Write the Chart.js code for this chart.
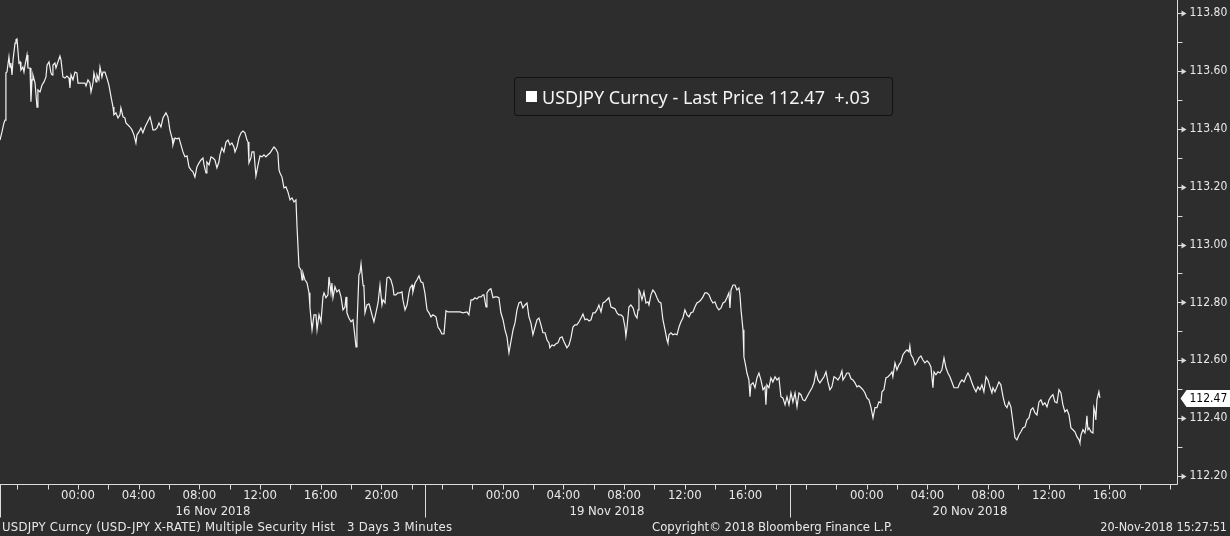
<!DOCTYPE html>
<html>
<head>
<meta charset="utf-8">
<script src="https://cdn.jsdelivr.net/npm/chart.js@4.4.0/dist/chart.umd.min.js"></script>
<style>
  html, body { margin: 0; padding: 0; background: #2d2d2d; }
  #wrap { position: relative; width: 1230px; height: 536px; overflow: hidden; background: #2d2d2d; }
  canvas { display: block; }
  #legendBox {
    position: absolute; left: 514px; top: 77px; width: 379px; height: 39px;
    box-sizing: border-box; border: 1px solid #121212; border-radius: 3px;
    display: flex; align-items: center; padding-left: 11px;
    font: 18px "Noto Sans", sans-serif; color: #f4f4f4; white-space: pre;
  }
  #legendBox .swatch { width: 11px; height: 11px; background: #ffffff; margin-right: 5px; flex: none; }
  .foot {
    position: absolute; top: 519px; line-height: 16px; white-space: pre;
    font: 13px "DejaVu Sans Condensed", "DejaVu Sans", sans-serif; color: #e8e8e8;
  }
</style>
</head>
<body>
<div id="wrap">
  <canvas id="chart" width="1230" height="536"></canvas>
  <div id="legendBox"><span class="swatch"></span><span id="legendText"></span></div>
  <div class="foot" id="footLeft" style="left:2px; letter-spacing:0.25px"></div>
  <div class="foot" id="footMid" style="left:652px"></div>
  <div class="foot" id="footRight" style="right:3px; font-size:12.5px"></div>
</div>
<script>
// hours on Bloomberg's compressed trading clock (0 = 16 Nov 00:00, 28 = 19 Nov 00:00, 52 = 20 Nov 00:00)
const hours = [
  -5.14,-5.01,-4.88,-4.81,-4.75,-4.68,-4.55,-4.48,-4.42,-4.35,
  -4.28,-4.15,-4.09,-4.02,-3.89,-3.82,-3.76,-3.63,-3.56,-3.49,
  -3.36,-3.30,-3.16,-3.10,-3.03,-2.97,-2.83,-2.70,-2.64,-2.50,
  -2.37,-2.24,-2.11,-2.04,-1.91,-1.78,-1.71,-1.65,-1.52,-1.45,
  -1.32,-1.19,-1.12,-0.99,-0.86,-0.73,-0.59,-0.53,-0.46,-0.33,
  -0.20,-0.07,0,0.26,0.46,0.53,0.66,0.79,0.86,0.99,
  1.05,1.19,1.25,1.38,1.45,1.58,1.65,1.78,1.91,2.04,
  2.18,2.31,2.37,2.50,2.64,2.77,2.83,2.97,3.10,3.16,
  3.30,3.43,3.56,3.69,3.82,3.89,4.02,4.15,4.28,4.42,
  4.55,4.75,4.88,4.94,5.08,5.21,5.34,5.47,5.60,5.80,
  5.93,6.06,6.20,6.26,6.39,6.53,6.66,6.79,6.92,7.05,
  7.19,7.32,7.45,7.58,7.71,7.84,7.98,8.11,8.24,8.31,
  8.44,8.50,8.64,8.77,8.90,9.03,9.16,9.29,9.36,9.49,
  9.62,9.76,9.89,10.02,10.15,10.28,10.35,10.48,10.61,10.75,
  10.88,11.01,11.14,11.21,11.27,11.40,11.47,11.60,11.73,11.87,
  12.00,12.13,12.26,12.39,12.52,12.66,12.79,12.92,13.05,13.18,
  13.25,
  13.32,13.45,13.58,13.71,13.84,13.98,14.11,14.24,14.37,14.44,
  14.57,14.70,14.77,14.83,14.96,15.10,15.23,15.29,15.43,15.56,
  15.69,15.76,15.89,16.02,16.15,16.22,16.35,16.48,16.55,16.68,
  16.74,16.81,16.94,17.07,17.21,17.34,17.47,17.60,17.67,17.73,
  17.86,18.00,18.13,18.26,18.33,18.39,18.52,18.59,18.66,18.79,
  18.85,18.92,19.05,19.18,19.25,19.38,19.51,19.64,19.78,19.91,
  20.04,20.11,20.24,20.37,20.50,20.63,20.76,20.83,20.96,21.09,
  21.23,21.36,21.42,21.56,21.69,21.82,21.89,22.02,22.08,22.22,
  22.35,22.48,22.61,22.74,22.87,23.01,23.14,23.27,23.40,23.60,
  23.73,23.86,23.99,24.13,24.26,24.39,24.65,24.98,25.18,25.38,
  25.64,25.77,25.91,26.04,26.17,26.30,26.43,26.57,26.70,26.76,
  26.90,26.96,27.09,27.22,27.36,27.49,27.62,27.75,27.88,28.02,
  28.15,28.28,28.41,28.54,28.68,28.81,28.94,29.07,29.20,29.33,
  29.47,29.60,29.73,29.86,29.99,30.13,30.26,30.39,30.52,30.65,
  30.79,30.92,31.05,
  31.11,31.25,31.38,31.51,31.64,31.77,31.91,32.04,32.23,32.37,
  32.50,32.63,32.76,32.89,33.03,33.16,33.29,33.42,33.55,33.69,
  33.82,33.95,34.08,34.21,34.34,34.48,34.61,34.74,34.87,35.00,
  35.14,35.27,35.40,35.53,35.66,35.79,35.93,36.06,36.12,36.19,
  36.32,36.45,36.59,36.72,36.85,36.92,36.98,37.05,37.18,37.31,
  37.44,37.57,37.64,37.77,37.90,38.04,38.17,38.30,38.43,38.56,
  38.70,38.83,38.89,38.96,39.09,39.22,39.35,39.49,39.62,39.75,
  39.88,40.01,40.15,40.28,40.41,40.54,40.67,40.80,40.94,41.07,
  41.20,41.33,41.46,41.60,41.73,41.86,41.99,42.12,42.25,42.39,
  42.52,42.65,42.78,42.91,42.98,43.05,43.18,43.31,43.44,43.57,
  43.64,43.71,43.84,43.90,44.03,44.10,44.23,44.30,44.36,44.50,
  44.63,44.76,44.89,45.02,45.16,45.29,45.35,45.42,45.55,45.68,
  45.81,45.95,46.08,46.21,46.34,46.47,46.61,46.74,46.87,47.00,
  47.13,47.27,47.40,47.53,47.66,47.79,47.92,48.06,48.19,
  48.39,48.52,48.65,48.78,48.91,49.04,49.18,49.31,49.44,49.57,
  49.70,49.84,49.97,50.10,50.23,50.36,50.43,50.56,50.69,50.82,
  50.96,51.09,51.22,51.35,51.48,51.62,51.75,51.88,52.01,52.14,
  52.27,52.41,52.54,52.67,52.80,52.93,53.00,53.13,53.26,53.40,
  53.53,53.66,53.72,53.86,53.99,54.12,54.25,54.38,54.52,54.65,
  54.78,54.84,54.91,55.04,55.18,55.31,55.44,55.57,55.70,55.83,
  55.97,56.10,56.23,56.36,56.43,56.56,56.69,56.82,56.95,57.09,
  57.22,57.35,57.48,57.61,57.75,58.01,58.14,58.27,58.41,58.54,
  58.67,58.80,58.93,59.06,59.20,59.33,59.46,59.59,59.72,59.86,
  59.99,60.12,60.25,60.32,60.45,60.58,60.71,60.84,60.98,61.11,
  61.24,61.37,61.50,61.64,61.77,61.90,62.03,62.16,62.29,62.43,
  62.56,62.69,62.82,62.95,63.09,63.22,63.35,63.48,63.61,63.74,
  63.88,64.01,64.14,64.27,64.40,64.54,64.67,64.80,64.93,65.06,
  65.20,65.33,65.46,65.59,65.72,65.86,65.99,66.05,66.12,66.25,
  66.38,66.45,66.51,66.58,66.65,66.78,66.91,66.97,67.04,67.10,
  67.17,67.30,67.37
];

const prices = [
  113.361,113.389,113.420,113.430,113.593,113.596,113.648,113.613,113.627,113.586,
  113.638,113.696,113.707,113.710,113.627,113.631,113.603,113.613,113.596,113.620,
  113.655,113.610,113.610,113.493,113.569,113.586,113.558,113.475,113.534,113.527,
  113.551,113.562,113.579,113.620,113.631,113.593,113.586,113.620,113.627,113.610,
  113.631,113.651,113.638,113.579,113.575,113.582,113.575,113.541,113.586,113.569,
  113.596,113.593,113.558,113.558,113.558,113.548,113.569,113.558,113.527,113.558,
  113.593,113.562,113.586,113.569,113.613,113.579,113.596,113.596,113.575,113.551,
  113.510,113.475,113.448,113.455,113.437,113.448,113.472,113.441,113.437,113.420,
  113.413,113.406,113.396,113.379,113.351,113.379,113.389,113.403,113.386,113.406,
  113.420,113.441,113.413,113.396,113.396,113.403,113.420,113.406,113.437,113.455,
  113.441,113.396,113.368,113.344,113.368,113.365,113.368,113.344,113.320,113.303,
  113.306,113.268,113.258,113.251,113.233,113.268,113.282,113.292,113.299,113.275,
  113.247,113.285,113.275,113.303,113.299,113.292,113.265,113.285,113.310,113.334,
  113.320,113.354,113.361,113.344,113.351,113.337,113.320,113.337,113.368,113.386,
  113.392,113.386,113.361,113.354,113.282,113.299,113.320,113.320,113.237,113.275,
  113.306,113.303,113.310,113.303,113.310,113.316,113.327,113.337,113.330,113.316,
  113.258,
  113.247,113.233,113.196,113.199,113.182,113.154,113.161,113.147,113.154,113.061,
  112.923,112.912,112.878,112.902,112.878,112.867,112.833,112.784,112.705,112.757,
  112.757,112.705,112.757,112.733,112.819,112.833,112.816,112.826,112.888,112.833,
  112.867,112.816,112.854,112.836,112.843,112.819,112.774,112.784,112.819,112.764,
  112.746,112.733,112.740,112.681,112.646,112.715,112.895,112.902,112.933,112.860,
  112.854,112.764,112.791,112.795,112.784,112.757,112.733,112.764,112.798,112.860,
  112.791,112.809,112.798,112.885,112.888,112.878,112.854,112.826,112.826,112.833,
  112.833,112.836,112.809,112.774,112.791,112.833,112.850,112.860,112.836,112.867,
  112.878,112.892,112.871,112.867,112.833,112.774,112.764,112.750,112.757,112.750,
  112.715,112.705,112.691,112.691,112.771,112.767,112.767,112.767,112.767,112.764,
  112.767,112.757,112.809,112.809,112.816,112.812,112.819,112.819,112.826,112.826,
  112.784,112.833,112.843,112.847,112.816,112.819,112.819,112.816,112.764,112.740,
  112.705,112.681,112.626,112.664,112.705,112.729,112.774,112.798,112.802,112.781,
  112.791,112.798,112.750,112.729,112.688,112.715,112.740,112.746,112.722,112.695,
  112.695,112.670,112.660,
  112.643,112.653,112.650,112.657,112.660,112.677,112.681,112.664,112.643,112.653,
  112.677,112.715,112.722,112.722,112.733,112.746,112.760,112.740,112.743,112.736,
  112.740,112.764,112.764,112.774,112.791,112.767,112.798,112.802,112.809,112.816,
  112.784,112.781,112.778,112.764,112.757,112.757,112.750,112.715,112.684,112.712,
  112.784,112.791,112.781,112.757,112.746,112.774,112.843,112.836,112.809,112.836,
  112.798,112.802,112.791,112.826,112.843,112.833,112.816,112.802,112.798,112.740,
  112.705,112.670,112.660,112.688,112.695,112.688,112.691,112.688,112.715,112.733,
  112.746,112.774,112.757,112.750,112.764,112.767,112.784,112.798,112.802,112.809,
  112.819,112.833,112.833,112.826,112.809,112.798,112.802,112.784,112.774,112.781,
  112.798,112.802,112.816,112.833,112.781,112.843,112.860,112.860,112.843,112.850,
  112.826,112.774,112.705,112.612,112.577,112.556,112.532,112.474,112.515,112.522,
  112.505,112.539,112.556,112.532,112.498,112.508,112.446,112.515,112.505,112.539,
  112.525,112.543,112.532,112.539,112.474,112.470,112.446,112.474,112.446,112.487,
  112.456,112.487,112.439,112.487,112.481,112.463,112.460,112.474,112.487,
  112.505,112.522,112.560,112.532,112.522,112.532,112.543,112.560,112.525,112.498,
  112.508,112.543,112.539,112.532,112.543,112.563,112.532,112.543,112.556,112.556,
  112.536,112.532,112.522,112.508,112.512,112.505,112.498,112.487,112.470,112.463,
  112.439,112.401,112.436,112.436,112.456,112.453,112.491,112.498,112.539,112.543,
  112.550,112.560,112.543,112.591,112.567,112.584,112.594,112.619,112.629,112.636,
  112.629,112.650,112.619,112.608,112.584,112.594,112.608,112.615,112.601,112.591,
  112.598,112.591,112.577,112.505,112.560,112.550,112.560,112.556,112.567,112.608,
  112.574,112.556,112.543,112.525,112.505,112.505,112.522,112.532,112.525,112.543,
  112.556,112.543,112.522,112.505,112.491,112.508,112.498,112.515,112.491,112.543,
  112.532,112.508,112.487,112.505,112.491,112.508,112.525,112.515,112.474,112.446,
  112.436,112.456,112.439,112.384,112.332,112.325,112.342,112.353,112.366,112.370,
  112.394,112.401,112.429,112.436,112.418,112.411,112.456,112.463,112.446,112.453,
  112.439,112.463,112.474,112.481,112.456,112.453,112.498,112.487,112.446,112.422,
  112.429,112.411,112.366,112.360,112.353,112.335,112.325,112.315,112.342,112.360,
  112.349,112.370,112.408,112.360,112.366,112.353,112.349,112.436,112.422,112.394,
  112.463,112.491,112.470
];

const yTicks = [112.2, 112.4, 112.6, 112.8, 113.0, 113.2, 113.4, 113.6, 113.8];
const xLabelHours = [0, 4, 8, 12, 16, 20, 28, 32, 36, 40, 44, 52, 56, 60, 64, 68];
const xLabels = ['00:00', '04:00', '08:00', '12:00', '16:00', '20:00',
                 '00:00', '04:00', '08:00', '12:00', '16:00',
                 '00:00', '04:00', '08:00', '12:00', '16:00'];
const dayLabels = ['16 Nov 2018', '19 Nov 2018', '20 Nov 2018'];
const dayLabelHours = [8.9, 34.87, 58.8];
const dayBreakHours = [-5.14, 22.87, 46.94];

const lastPrice = 112.47;
const lastChange = '+.03';
const seriesName = 'USDJPY Curncy';
const fieldName = 'Last Price';

const xMin = -5.14, xMax = 72.45;
const yMin = 112.1724, yMax = 113.8449;

const AXIS_COLOR = '#dcdcdc';
const TEXT_COLOR = '#e8e8e8';
const LINE_COLOR = '#f2f2f2';
const Y_FONT = '12px "DejaVu Sans Condensed", "DejaVu Sans", sans-serif';
const X_FONT = '13px "DejaVu Sans Condensed", "DejaVu Sans", sans-serif';

document.getElementById('legendText').textContent =
  `${seriesName} - ${fieldName} ${lastPrice.toFixed(2)}  ${lastChange}`;
document.getElementById('footLeft').textContent =
  'USDJPY Curncy (USD-JPY X-RATE) Multiple Security Hist   3 Days 3 Minutes';
document.getElementById('footMid').textContent = 'Copyright\u00a9 2018 Bloomberg Finance L.P.';
document.getElementById('footRight').textContent = '20-Nov-2018 15:27:51';

// Bloomberg style axes: drawn from the chart's own scales
const bbgAxes = {
  id: 'bbgAxes',
  afterDraw(chart) {
    const { ctx, chartArea: area, scales: { x, y } } = chart;
    const right = Math.round(area.right) + 0.5;
    const bottom = Math.round(area.bottom) + 0.5;

    ctx.save();
    ctx.strokeStyle = AXIS_COLOR;
    ctx.fillStyle = AXIS_COLOR;
    ctx.lineWidth = 1;

    ctx.beginPath();
    ctx.moveTo(0, bottom);
    ctx.lineTo(right, bottom);
    ctx.moveTo(right, 0);
    ctx.lineTo(right, bottom);
    ctx.stroke();

    // minor ticks halfway between labels
    ctx.beginPath();
    for (let i = 0; i < yTicks.length; i++) {
      const v = yTicks[i] + 0.1;
      if (v > yMax) continue;
      const py = Math.round(y.getPixelForValue(v)) + 0.5;
      ctx.moveTo(right, py);
      ctx.lineTo(right + 5, py);
    }
    ctx.stroke();

    // major ticks: small wedges
    yTicks.forEach(v => {
      const py = Math.round(y.getPixelForValue(v)) + 0.5;
      ctx.beginPath();
      ctx.moveTo(right, py - 0.5);
      ctx.lineTo(right + 4, py - 0.5);
      ctx.lineTo(right + 4, py - 3);
      ctx.lineTo(right + 9, py);
      ctx.lineTo(right + 4, py + 3);
      ctx.lineTo(right + 4, py + 0.5);
      ctx.lineTo(right, py + 0.5);
      ctx.closePath();
      ctx.fill();
    });

    ctx.font = Y_FONT;
    ctx.fillStyle = TEXT_COLOR;
    ctx.textAlign = 'left';
    ctx.textBaseline = 'middle';
    yTicks.forEach(v => {
      ctx.fillText(v.toFixed(2), right + 12, y.getPixelForValue(v));
    });

    // x ticks every two hours
    ctx.beginPath();
    for (let h = -4; h <= xMax; h += 2) {
      const px = Math.round(x.getPixelForValue(h)) + 0.5;
      ctx.moveTo(px, bottom);
      ctx.lineTo(px, bottom + 5);
    }
    dayBreakHours.forEach(h => {
      const px = Math.max(0.5, Math.round(x.getPixelForValue(h)) + 0.5);
      ctx.moveTo(px, bottom);
      ctx.lineTo(px, bottom + 33);
    });
    ctx.stroke();

    ctx.font = X_FONT;
    ctx.textAlign = 'center';
    xLabelHours.forEach((h, i) => {
      ctx.fillText(xLabels[i], x.getPixelForValue(h), bottom + 11);
    });
    dayLabels.forEach((t, i) => {
      ctx.fillText(t, x.getPixelForValue(dayLabelHours[i]), bottom + 27);
    });

    // last price tag
    ctx.font = Y_FONT;
    const py = Math.round(y.getPixelForValue(lastPrice));
    ctx.fillStyle = '#ffffff';
    ctx.beginPath();
    ctx.moveTo(right + 3, py + 0.5);
    ctx.lineTo(right + 9, py - 8);
    ctx.lineTo(chart.width, py - 8);
    ctx.lineTo(chart.width, py + 9);
    ctx.lineTo(right + 9, py + 9);
    ctx.closePath();
    ctx.fill();
    ctx.fillStyle = '#000000';
    ctx.textAlign = 'left';
    ctx.fillText(lastPrice.toFixed(2), right + 12, py + 0.5);

    ctx.restore();
  }
};

const points = hours.map((h, i) => ({ x: h, y: prices[i] }));

new Chart(document.getElementById('chart'), {
  type: 'line',
  data: {
    datasets: [{
      data: points,
      borderColor: LINE_COLOR,
      borderWidth: 1.2,
      pointRadius: 0,
      tension: 0,
      fill: false
    }]
  },
  options: {
    responsive: false,
    animation: false,
    events: [],
    layout: { padding: { left: 0, top: 0, right: 53, bottom: 52 } },
    plugins: {
      legend: { display: false },
      tooltip: { enabled: false }
    },
    scales: {
      x: { type: 'linear', display: false, min: xMin, max: xMax },
      y: { type: 'linear', display: false, min: yMin, max: yMax }
    }
  },
  plugins: [bbgAxes]
});
</script>
</body>
</html>
